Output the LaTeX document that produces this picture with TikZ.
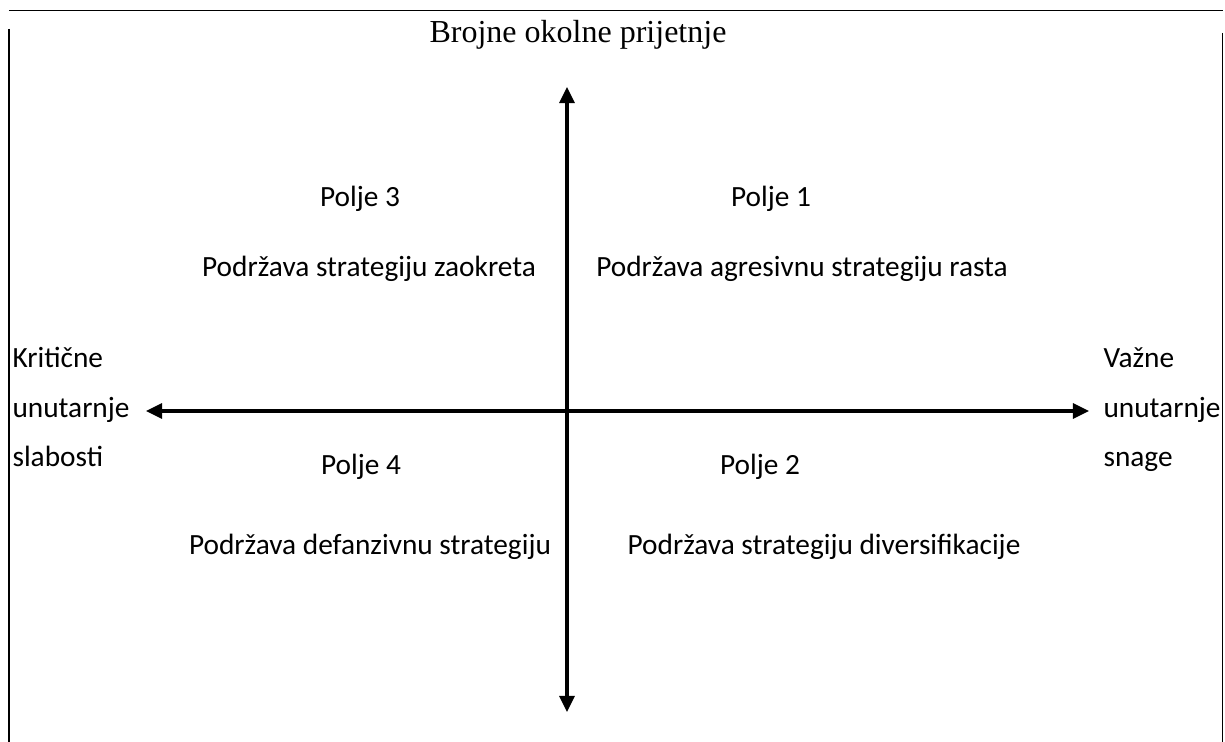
\documentclass[tikz,border=0pt]{standalone}
\usepackage{fontspec}
\setmainfont{Carlito}
\newfontfamily\naslovfont{Liberation Serif}
\usetikzlibrary{arrows.meta}

\begin{document}
\begin{tikzpicture}[
    okvir/.style={line width=0.026cm},
    os/.style={line width=0.040cm, {Triangle[width=0.198cm,length=0.211cm]}-{Triangle[width=0.198cm,length=0.211cm]}},
    polje/.style={anchor=base, inner sep=0pt, font=\fontsize{11}{13}\selectfont},
    oznaka/.style={anchor=base west, inner sep=0pt, font=\fontsize{11}{13}\selectfont}]
    \useasboundingbox (0,0) rectangle (16.145100,9.779300);

    % Drawing frame
    \draw [okvir] (0.118600,9.641000) -- (16.118800,9.641000);%
    \draw [okvir] (0.118600,9.397100) -- (0.118600,0.000000);%
    \draw [okvir] (16.112200,9.344400) -- (16.112200,0.000000);%

    % Title
    \node [anchor=base, inner sep=0pt, font=\naslovfont\fontsize{12}{14}\selectfont] (naslov) at (7.617900,9.212600) {Brojne okolne prijetnje};%

    % Drawing axes
    \coordinate (gore) at (7.472900,8.632700);%
    \coordinate (dolje) at (7.472900,0.395400);%
    \coordinate (lijevo) at (1.924200,4.362500);%
    \coordinate (desno) at (14.352700,4.362500);%
    \draw [os] (dolje) -- (gore);%
    \draw [os] (lijevo) -- (desno);%

    % Marking left side
    \node [oznaka] (slab1) at (0.158200,4.929200) {Kritične};%
    \node [oznaka] (slab2) at (0.158200,4.270200) {unutarnje};%
    \node [oznaka] (slab3) at (0.158200,3.624400) {slabosti};%

    % Marking right side
    \node [oznaka] (snag1) at (14.537200,4.929200) {Važne};%
    \node [oznaka] (snag2) at (14.537200,4.270200) {unutarnje};%
    \node [oznaka] (snag3) at (14.537200,3.624400) {snage};%

    % Marking field 3 and field 1
    \node [polje] (polje3) at (4.744700,7.051100) {Polje 3};%
    \node [polje] (strat3) at (4.863300,6.128600) {Podržava strategiju zaokreta};%
    \node [polje] (polje1) at (10.161600,7.051100) {Polje 1};%
    \node [polje] (strat1) at (10.570100,6.128600) {Podržava agresivnu strategiju rasta};%

    % Marking field 4 and field 2
    \node [polje] (polje4) at (4.757900,3.519000) {Polje 4};%
    \node [polje] (strat4) at (4.876500,2.464600) {Podržava defanzivnu strategiju};%
    \node [polje] (polje2) at (10.016600,3.519000) {Polje 2};%
    \node [polje] (strat2) at (10.860100,2.464600) {Podržava strategiju diversifikacije};%
\end{tikzpicture}
\end{document}
